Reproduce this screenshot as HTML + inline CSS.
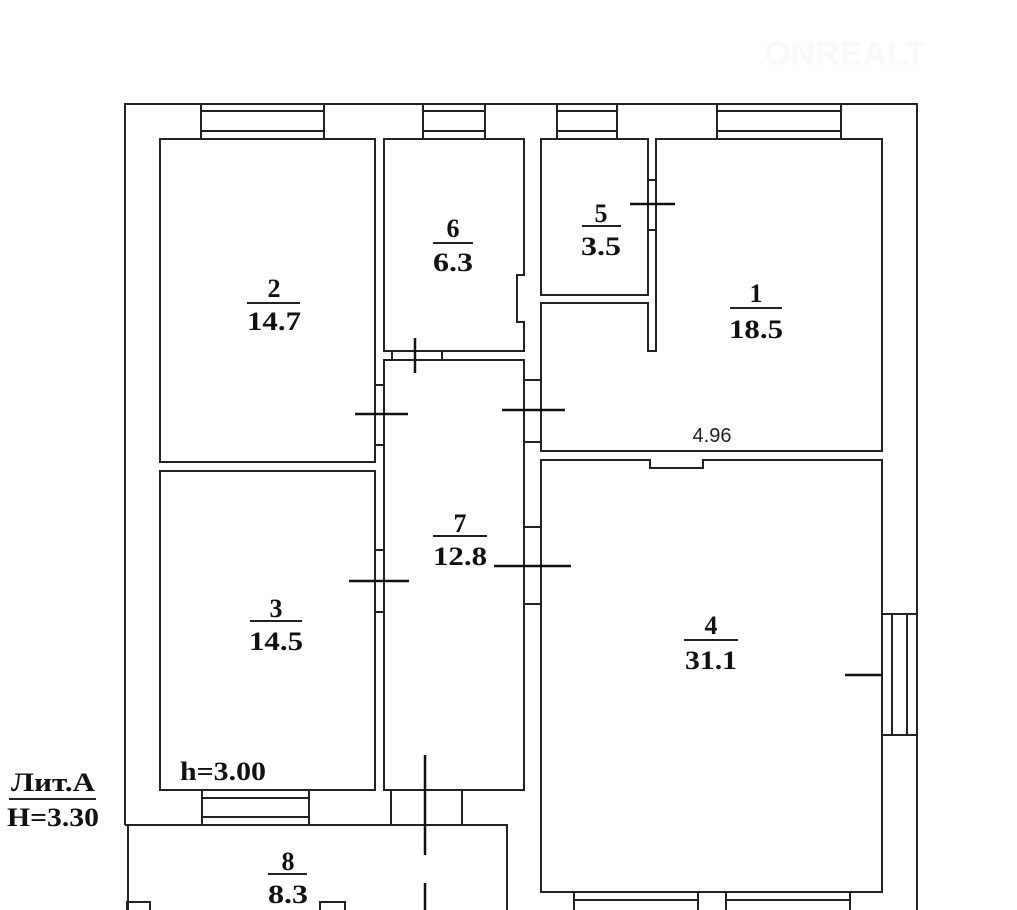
<!DOCTYPE html>
<html><head><meta charset="utf-8"><style>
html,body{margin:0;padding:0;background:#fff;width:1017px;height:910px;overflow:hidden}
svg{display:block}
.w{fill:none;stroke:#222;stroke-width:2}
.t{font-family:"Liberation Serif",serif;font-weight:bold;font-size:26px;fill:#111;text-anchor:middle}
</style></head><body>
<svg width="1017" height="910" viewBox="0 0 1017 910">
<text x="845" y="65" font-family="Liberation Sans,sans-serif" font-weight="bold" font-size="34" fill="#f9f9f9" text-anchor="middle">ONREALT</text>
<path class="w" d="M125,825 V104 H917 V910"/>
<path class="w" d="M128,825 V910"/>
<path class="w" d="M125,825 H507 V910"/>
<g class="w">
<rect x="201" y="104" width="123" height="35"/><line x1="201" y1="111" x2="324" y2="111"/><line x1="201" y1="131" x2="324" y2="131"/>
<rect x="423" y="104" width="62" height="35"/><line x1="423" y1="111" x2="485" y2="111"/><line x1="423" y1="131" x2="485" y2="131"/>
<rect x="557" y="104" width="60" height="35"/><line x1="557" y1="111" x2="617" y2="111"/><line x1="557" y1="131" x2="617" y2="131"/>
<rect x="717" y="104" width="124" height="35"/><line x1="717" y1="111" x2="841" y2="111"/><line x1="717" y1="131" x2="841" y2="131"/>
<rect x="882" y="614" width="35" height="121"/><line x1="892" y1="614" x2="892" y2="735"/><line x1="907" y1="614" x2="907" y2="735"/>
<path d="M574,910 V892 H698 V910 M574,900 H698"/>
<path d="M726,910 V892 H850 V910 M726,900 H850"/>
<rect x="202" y="790" width="107" height="35"/><line x1="202" y1="798" x2="309" y2="798"/><line x1="202" y1="817" x2="309" y2="817"/>
<rect x="391" y="790" width="71" height="35"/>
<path d="M127,910 V902 H150 V910 M320,910 V902 H345 V910"/>
</g>
<g class="w">
<rect x="160" y="139" width="215" height="323"/>
<rect x="160" y="471" width="215" height="319"/>
<path d="M384,139 H524 V275 H517 V322 H524 V351 H384 Z"/>
<rect x="384" y="360" width="140" height="430"/>
<rect x="541" y="139" width="107" height="156"/>
<path d="M656,139 H882 V451 H541 V303 H648 V351 H656 Z"/>
<path d="M541,460 H650 V468 H703 V460 H882 V892 H541 Z"/>
</g>
<g class="w">
<rect x="375" y="385" width="9" height="60"/>
<rect x="375" y="550" width="9" height="62"/>
<rect x="392" y="351" width="50" height="9"/>
<rect x="524" y="380" width="17" height="62"/>
<rect x="524" y="527" width="17" height="77"/>
<rect x="648" y="180" width="8" height="50"/>
</g>
<g stroke="#111" stroke-width="2.5">
<line x1="355" y1="414" x2="408" y2="414"/>
<line x1="349" y1="581" x2="409" y2="581"/>
<line x1="415" y1="338" x2="415" y2="373"/>
<line x1="502" y1="410" x2="565" y2="410"/>
<line x1="494" y1="566" x2="571" y2="566"/>
<line x1="630" y1="204" x2="675" y2="204"/>
<line x1="845" y1="675" x2="882" y2="675"/>
<line x1="425" y1="755" x2="425" y2="855"/>
<line x1="425" y1="883" x2="425" y2="910"/>
</g>
<g class="t">
<text x="274" y="297">2</text><text x="274" y="330" textLength="54" lengthAdjust="spacingAndGlyphs">14.7</text>
<text x="453" y="237">6</text><text x="453" y="271" textLength="40" lengthAdjust="spacingAndGlyphs">6.3</text>
<text x="601" y="222">5</text><text x="601" y="255" textLength="40" lengthAdjust="spacingAndGlyphs">3.5</text>
<text x="756" y="302">1</text><text x="756" y="338" textLength="54" lengthAdjust="spacingAndGlyphs">18.5</text>
<text x="460" y="532">7</text><text x="460" y="565" textLength="54" lengthAdjust="spacingAndGlyphs">12.8</text>
<text x="276" y="617">3</text><text x="276" y="650" textLength="54" lengthAdjust="spacingAndGlyphs">14.5</text>
<text x="711" y="634">4</text><text x="711" y="669" textLength="52" lengthAdjust="spacingAndGlyphs">31.1</text>
<text x="288" y="870">8</text><text x="288" y="903" textLength="40" lengthAdjust="spacingAndGlyphs">8.3</text>
<text x="223" y="780" textLength="86" lengthAdjust="spacingAndGlyphs">h=3.00</text>
<text x="53" y="791" textLength="84" lengthAdjust="spacingAndGlyphs">Лит.А</text><text x="53" y="826" textLength="92" lengthAdjust="spacingAndGlyphs">H=3.30</text>
</g>
<g stroke="#222" stroke-width="2">
<line x1="247" y1="303" x2="300" y2="303"/>
<line x1="433" y1="243" x2="473" y2="243"/>
<line x1="582" y1="226" x2="621" y2="226"/>
<line x1="730" y1="308" x2="782" y2="308"/>
<line x1="433" y1="536" x2="487" y2="536"/>
<line x1="250" y1="621" x2="302" y2="621"/>
<line x1="684" y1="640" x2="738" y2="640"/>
<line x1="268" y1="874" x2="307" y2="874"/>
<line x1="9" y1="799" x2="96" y2="799"/>
</g>
<text x="712" y="442" font-family="Liberation Sans,sans-serif" font-size="20" fill="#222" text-anchor="middle">4.96</text>
</svg>
</body></html>
